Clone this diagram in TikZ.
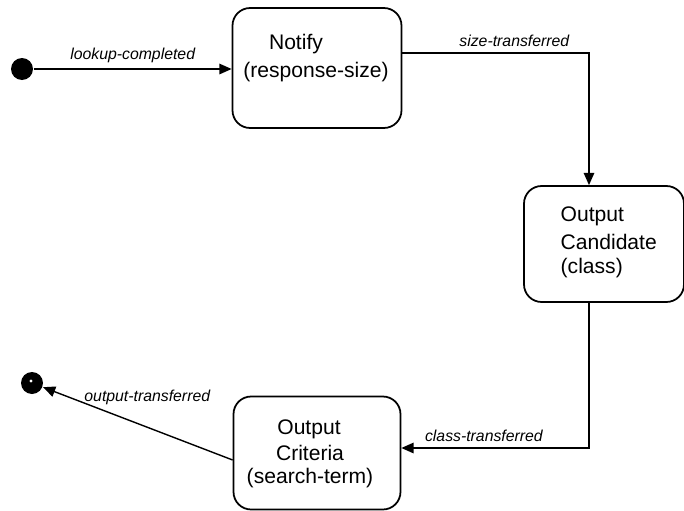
\documentclass[tikz,border=0pt]{standalone}
\usepackage{fontspec}
\setmainfont{Liberation Sans}
\usetikzlibrary{arrows.meta}
\begin{document}
\begin{tikzpicture}[x=0.02cm, y=-0.02cm, line width=0.8pt,
    state/.style={draw, line width=1pt, rounded corners=10pt, inner sep=0pt},
    txt/.style={font=\large},
    trans/.style={font=\small\itshape},
    flow/.style={-{Triangle[length=7pt, width=6pt]}}]
    \useasboundingbox (0,0) rectangle (684,511);

    % Initial and final pseudo-states
    \node[circle, fill=black, minimum size=0.44cm, inner sep=0pt] (start) at (22,69) {};
    \node[circle, fill=black, minimum size=0.44cm, inner sep=0pt] (final) at (32,383) {};
    \fill[white] (final.center) ++(-1,-2) circle (0.9pt);

    % States
    \node[state, minimum width=3.38cm, minimum height=2.4cm] (notify) at (317,68) {};
    \node[txt] (notifya) at (296,44) {Notify};
    \node[txt] (notifyb) at (316,72) {(response-size)};

    \node[state, minimum width=3.2cm, minimum height=2.32cm] (candidate) at (604,244) {};
    \node[txt, right, inner sep=0pt] (candidatea) at (560,216) {Output};
    \node[txt, right, inner sep=0pt] (candidateb) at (560,242) {Candidate};
    \node[txt, right, inner sep=0pt] (candidatec) at (560,268) {(class)};

    \node[state, minimum width=3.34cm, minimum height=2.26cm] (criteria) at (317,453) {};
    \node[txt] (criteriaa) at (309,429) {Output};
    \node[txt] (criteriab) at (310,453) {Criteria};
    \node[txt] (criteriac) at (310,478) {(search-term)};

    % Transitions
    \draw[flow] (start) -- (notify.west |- start) node[trans, midway, above] (lookup) {lookup-completed};
    \draw[flow] (notify.east |- 0,53) -| (candidate.north -| 589,0)
        node[trans, pos=0.3, above] (size) {size-transferred};
    \draw[flow] (candidate.south -| 589,0) |- (criteria.east |- 0,448)
        node[trans, pos=0.78, above] (class) {class-transferred};
    \draw[flow] (criteria.west |- 0,460) -- (final)
        node[trans, pos=0.45, above=9pt] (output) {output-transferred};
\end{tikzpicture}
\end{document}
